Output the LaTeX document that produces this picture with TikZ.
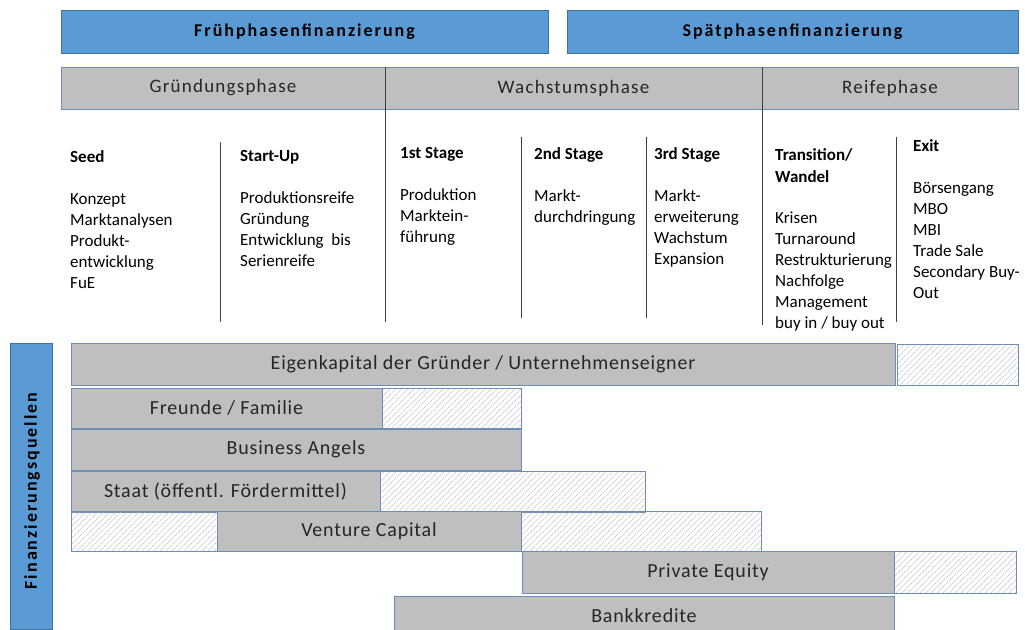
\documentclass[tikz,border=0pt]{standalone}
\usepackage{fontspec}
\setmainfont{Carlito}
\newfontfamily\widefont[LetterSpace=4]{Carlito}
\newfontfamily\phasefont[LetterSpace=6.5]{Carlito}
\newfontfamily\hdrfont[LetterSpace=11]{Carlito}
\usetikzlibrary{patterns.meta}
\definecolor{hdrblue}{HTML}{5B9BD5}
\definecolor{hdrline}{HTML}{41719C}
\definecolor{barfill}{HTML}{BFBFBF}
\definecolor{barline}{HTML}{6D8FB5}
\definecolor{divline}{HTML}{404040}
\begin{document}
\begin{tikzpicture}[x=1pt,y=-1pt,
  hdr/.style={draw=hdrline, fill=hdrblue, anchor=north west, inner sep=0, outer sep=0, font=\hdrfont\fontsize{18}{20}\selectfont\bfseries},
  phase/.style={draw=barline, fill=barfill, anchor=north west, inner sep=0, outer sep=0, minimum height=42, text=black!85, font=\phasefont\fontsize{19}{21}\selectfont},
  bar/.style={draw=barline, fill=barfill, anchor=north west, inner sep=0, outer sep=0, text=black!85, font=\widefont\fontsize{20}{22}\selectfont},
  hatch/.style={draw=barline, fill=white, pattern={Lines[angle=45,distance=4pt,line width=0.5pt]}, pattern color=gray!55, anchor=north west, inner sep=0, outer sep=0},
  col/.style={anchor=north west, align=left, inner sep=0, font=\fontsize{17}{21}\selectfont},
  divider/.style={draw=divline, line width=0.8pt}]
\useasboundingbox (0,0) rectangle (1025,629);
% top: financing phases
\node[hdr, minimum width=487, minimum height=43] (fruh) at (61,10) {Frühphasenfinanzierung};
\node[hdr, minimum width=451, minimum height=43] (spaet) at (567,10) {Spätphasenfinanzierung};
\node[phase, minimum width=324] (gruend) at (61,67) {Gründungsphase};
\node[phase, minimum width=377] (wachs) at (385,67) {Wachstumsphase};
\node[phase, minimum width=256] (reife) at (762,67) {Reifephase};
% columns
\draw[divider] (385,67) -- (385,322);
\draw[divider] (762,67) -- (762,325);
\draw[divider] (220,142) -- (220,322);
\draw[divider] (521,137) -- (521,318);
\draw[divider] (646,137) -- (646,318);
\draw[divider] (896,137) -- (896,322);
\node[col] (seed) at (70,150) {\textbf{Seed}\\[21pt]Konzept\\Marktanalysen\\Produkt-\\entwicklung\\FuE};
\node[col] (startup) at (240,150) {\textbf{Start-Up}\\[21pt]Produktionsreife\\Gründung\\Entwicklung~~bis\\Serienreife};
\node[col] (stage1) at (400,147) {\textbf{1st Stage}\\[21pt]Produktion\\Marktein-\\führung};
\node[col] (stage2) at (534,147) {\textbf{2nd Stage}\\[21pt]Markt-\\durchdringung};
\node[col] (stage3) at (654,147) {\textbf{3rd Stage}\\[21pt]Markt-\\erweiterung\\Wachstum\\Expansion};
\node[col] (trans) at (775,148) {\textbf{Transition/}\\[1pt]\textbf{Wandel}\\[20pt]Krisen\\Turnaround\\Restrukturierung\\Nachfolge\\Management\\buy in / buy out};
\node[col] (exit) at (913,139) {\textbf{Exit}\\[21pt]Börsengang\\MBO\\MBI\\Trade Sale\\Secondary Buy-\\Out};
% sources of finance
\node[hdr, minimum width=42, minimum height=286] (quellbox) at (10,343) {};
\node[rotate=90, font=\hdrfont\fontsize{18}{20}\selectfont\bfseries] (quellen) at (32,491) {Finanzierungsquellen};
\node[bar, minimum width=824, minimum height=42] (ek) at (71,343) {Eigenkapital der Gründer / Unternehmenseigner};
\node[hatch, minimum width=121, minimum height=41] (ekx) at (897,344) {};
\node[bar, minimum width=311, minimum height=40] (freunde) at (71,388) {Freunde / Familie};
\node[hatch, minimum width=139, minimum height=40] (freundex) at (382,388) {};
\node[bar, minimum width=450, minimum height=41] (angels) at (71,429) {Business Angels};
\node[bar, minimum width=309, minimum height=41] (staat) at (71,471) {Staat (öffentl. Fördermittel)};
\node[hatch, minimum width=265, minimum height=41] (staatx) at (380,471) {};
\node[hatch, minimum width=146, minimum height=40] (vcx) at (71,511) {};
\node[bar, minimum width=304, minimum height=40] (vc) at (217,511) {Venture Capital};
\node[hatch, minimum width=240, minimum height=40] (vcy) at (521,511) {};
\node[bar, minimum width=372, minimum height=42] (pe) at (522,551) {Private Equity};
\node[hatch, minimum width=122, minimum height=42] (pex) at (894,551) {};
\node[bar, minimum width=500, minimum height=40] (bank) at (394,596) {Bankkredite};
\end{tikzpicture}
\end{document}
